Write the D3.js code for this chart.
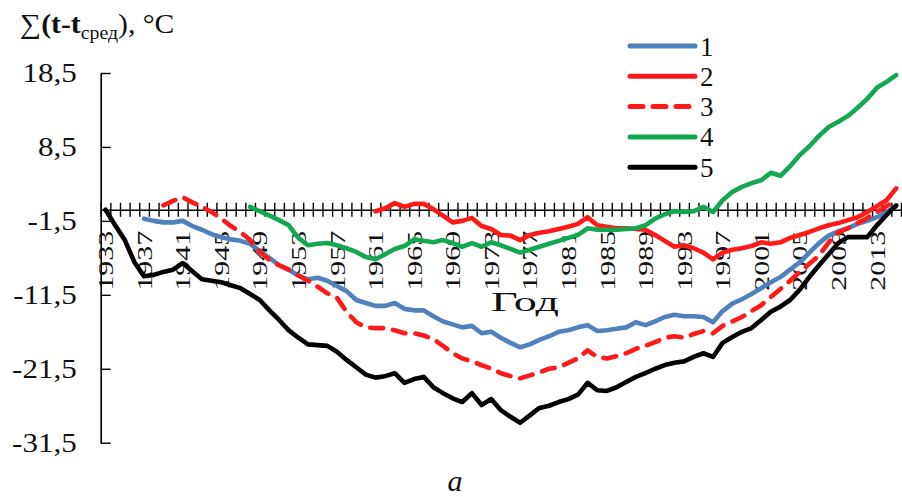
<!DOCTYPE html>
<html>
<head>
<meta charset="utf-8">
<script src="https://cdn.jsdelivr.net/npm/d3@7"></script>
<style>
  html, body { margin: 0; padding: 0; background: #fff; }
  svg { display: block; font-family: "Liberation Serif", "Times New Roman", serif; }
</style>
</head>
<body>
<svg id="chart" width="902" height="497"></svg>
<script>
// Cumulative deviations of temperature from the mean, one value per year
const firstYear = 1933;
const lastYear = 2015;
const labelYears = [1933, 1937, 1941, 1945, 1949, 1953, 1957, 1961, 1965, 1969, 1973,
  1977, 1981, 1985, 1989, 1993, 1997, 2001, 2005, 2009, 2013];
const yTicks = [18.5, 8.5, -1.5, -11.5, -21.5, -31.5];
const seriesNames = ["1", "2", "3", "4", "5"];
const seriesStart = [1937, 1961, 1939, 1948, 1933];

const s1 = [-1.2, -1.5, -1.7, -1.7, -1.5, -2.2, -2.7, -3.3, -3.7, -4.0,
  -4.2, -4.6, -5.6, -6.5, -7.5, -8.1, -8.9, -9.4, -9.2, -9.6,
  -10.3, -11.0, -12.2, -12.6, -13.0, -13.0, -12.6, -13.4, -13.6, -13.6,
  -14.4, -15.1, -15.5, -15.9, -15.7, -16.7, -16.5, -17.3, -18.0, -18.6,
  -18.2, -17.6, -17.1, -16.5, -16.3, -15.9, -15.6, -16.4, -16.3, -16.1,
  -15.9, -15.2, -15.6, -15.1, -14.5, -14.2, -14.4, -14.4, -14.5, -15.2,
  -13.7, -12.7, -12.1, -11.4, -10.6, -9.8, -9.1, -8.1, -7.1, -5.8,
  -4.5, -3.5, -2.9, -2.5, -1.9, -1.5, -1.0, -0.3, 0.5];

const s2 = [-0.2, 0.2, 0.9, 0.4, 0.8, 0.8, 0.1, -0.8, -1.7, -1.5,
  -1.1, -2.2, -2.6, -3.4, -3.5, -4.1, -3.4, -3.1, -2.9, -2.6,
  -2.3, -1.9, -1.0, -2.1, -2.3, -2.5, -2.5, -2.6, -2.7, -3.4,
  -4.2, -5.0, -4.8, -5.2, -5.8, -6.7, -5.8, -5.4, -5.2, -4.9,
  -4.4, -4.6, -4.4, -3.8, -3.4, -3.0, -2.5, -2.1, -1.8, -1.4,
  -1.0, -0.3, 0.5, 1.3, 2.9];

const s3 = [0.6, 1.2, 1.7, 1.0, 0.4, -0.3, -1.2, -2.2, -3.0, -4.1,
  -5.7, -6.8, -7.5, -8.1, -8.9, -9.6, -10.4, -11.3, -11.9, -13.8,
  -15.2, -15.9, -16.0, -16.0, -16.3, -16.7, -16.7, -17.0, -17.5, -18.4,
  -19.4, -20.1, -20.5, -21.0, -21.5, -22.1, -22.5, -22.8, -22.4, -22.0,
  -21.5, -21.3, -20.7, -20.1, -19.0, -19.9, -20.1, -19.8, -19.4, -18.8,
  -18.4, -17.9, -17.3, -17.1, -17.3, -16.8, -16.4, -16.7, -15.7, -15.1,
  -14.5, -13.7, -12.9, -11.8, -10.7, -9.6, -8.4, -7.3, -6.2, -4.4,
  -3.1, -2.5, -1.8, -1.1, -0.3, 0.5, 1.3];

const s4 = [0.4, -0.2, -0.8, -1.4, -2.1, -3.8, -4.8, -4.6, -4.5, -4.8,
  -5.2, -5.7, -6.4, -6.7, -6.0, -5.3, -4.9, -4.0, -4.2, -4.4,
  -4.1, -4.5, -5.0, -4.5, -5.0, -4.4, -4.8, -5.3, -5.8, -5.4,
  -5.0, -4.6, -4.2, -3.8, -3.4, -2.5, -2.7, -2.7, -2.7, -2.6,
  -2.5, -2.1, -1.2, -0.6, -0.2, -0.3, -0.2, 0.4, -0.3, 1.3,
  2.4, 3.1, 3.6, 4.0, 5.0, 4.6, 5.9, 7.4, 8.6, 10.0,
  11.2, 11.9, 12.7, 13.8, 15.0, 16.5, 17.3, 18.2];

const s5 = [0, -2.1, -4.1, -7.1, -9.0, -8.8, -8.4, -8.1, -7.2, -8.3,
  -9.4, -9.6, -9.8, -10.2, -10.6, -11.4, -12.2, -13.6, -14.9, -16.3,
  -17.3, -18.2, -18.3, -18.4, -19.2, -20.3, -21.3, -22.3, -22.7, -22.5,
  -22.1, -23.4, -22.9, -22.6, -24.0, -24.8, -25.5, -26.0, -24.8, -26.4,
  -25.6, -27.1, -28.0, -28.8, -27.8, -26.8, -26.5, -26.0, -25.6, -25.0,
  -23.4, -24.4, -24.5, -24.0, -23.3, -22.6, -22.1, -21.5, -21.0, -20.7,
  -20.5, -19.9, -19.4, -19.9, -18.0, -17.2, -16.5, -16.0, -14.9, -13.8,
  -13.1, -12.2, -10.8, -9.1, -7.5, -6.0, -4.5, -3.7, -3.7, -3.7,
  -2.1, -0.7, 0.6];

const seriesValues = [s1, s2, s3, s4, s5];
const seriesColors = ["#4f81bd", "#ff1a1a", "#ff1a1a", "#12a84f", "#000000"];
const seriesDash = [null, null, "13,10", null, null];

const svg = d3.select("#chart");

const plot = { left: 100.7, right: 901, top: 73, bottom: 442.7 };

const x = d3.scaleLinear()
  .domain([firstYear - 0.5, lastYear + 0.5])
  .range([plot.left, plot.right]);

const y = d3.scaleLinear()
  .domain([-31.5, 18.5])
  .range([plot.bottom, plot.top]);

const ru = d3.formatLocale({ decimal: ",", thousands: " ", grouping: [3], currency: ["", ""], minus: "-" });
const fmt = ru.format(".1f");

// Vertical axis: ticks point into the plot, labels on the left
const yAxis = svg.append("g")
  .attr("transform", `translate(${plot.left},0)`)
  .call(d3.axisLeft(y).tickValues(yTicks).tickFormat(fmt).tickSize(-10).tickSizeOuter(0).tickPadding(24));
yAxis.select(".domain").attr("stroke", "#000").attr("stroke-width", 1.6);
yAxis.selectAll(".tick line").attr("stroke", "#000").attr("stroke-width", 1.4);
yAxis.selectAll(".tick text")
  .attr("font-family", "Liberation Serif, serif")
  .attr("font-size", 27)
  .attr("fill", "#111")
  .attr("x", -24 / 1.15)
  .attr("dy", "0.33em")
  .attr("transform", "scale(1.15,1)");

// Horizontal axis at zero with a cross tick at every category boundary
const boundaries = d3.range(firstYear - 0.5, lastYear + 1, 1);
const xAxis = svg.append("g")
  .attr("transform", `translate(0,${y(0)})`)
  .call(d3.axisBottom(x).tickValues(boundaries).tickFormat("").tickSize(7).tickSizeOuter(0));
xAxis.select(".domain").attr("stroke", "#000").attr("stroke-width", 1.6);
xAxis.selectAll(".tick line").attr("y1", -7).attr("stroke", "#000").attr("stroke-width", 1.4);

// Rotated year labels
const labelAxis = svg.append("g")
  .attr("transform", `translate(0,${y(0)})`)
  .call(d3.axisBottom(x).tickValues(labelYears).tickFormat(d3.format("d")).tickSize(0).tickSizeOuter(0));
labelAxis.select(".domain").remove();
labelAxis.selectAll(".tick text")
  .attr("font-family", "Liberation Serif, serif")
  .attr("font-size", 21)
  .attr("fill", "#111")
  .attr("text-anchor", "start")
  .attr("transform", "translate(0,81) rotate(-90)")
  .attr("x", 0)
  .attr("y", 0)
  .attr("dy", "0.34em")
  .attr("textLength", 60)
  .attr("lengthAdjust", "spacingAndGlyphs");

// Series lines
const line = d3.line()
  .x(d => x(d.year))
  .y(d => y(d.value));

seriesValues.forEach((vals, i) => {
  const pts = vals.map((v, k) => ({ year: seriesStart[i] + k, value: v }));
  const path = svg.append("path")
    .datum(pts)
    .attr("d", line)
    .attr("fill", "none")
    .attr("stroke", seriesColors[i])
    .attr("stroke-width", 4.6)
    .attr("stroke-linejoin", "round")
    .attr("stroke-linecap", "round");
  if (seriesDash[i]) path.attr("stroke-dasharray", seriesDash[i]);
});

// Axis titles
svg.append("text")
  .attr("x", 525).attr("y", 311)
  .attr("text-anchor", "middle")
  .attr("font-size", 28)
  .attr("fill", "#111")
  .attr("textLength", 68)
  .attr("lengthAdjust", "spacingAndGlyphs")
  .text("Год");

const title = svg.append("text")
  .attr("x", 0).attr("y", 0)
  .attr("transform", "translate(20,33) scale(1.1,1)")
  .attr("font-size", 27)
  .attr("fill", "#111");
title.append("tspan").text("∑");
title.append("tspan").attr("font-weight", "bold").text("(t-t");
title.append("tspan").attr("font-size", 18).attr("dy", 6).text("сред");
title.append("tspan").attr("dy", -6).text("), °C");

// Legend
const legend = svg.append("g");
seriesNames.forEach((name, i) => {
  const ly = 46 + i * 30.3;
  const l = legend.append("line")
    .attr("x1", 630).attr("x2", 695)
    .attr("y1", ly).attr("y2", ly)
    .attr("stroke", seriesColors[i])
    .attr("stroke-width", 5)
    .attr("stroke-linecap", "round");
  if (seriesDash[i]) l.attr("stroke-dasharray", seriesDash[i]);
  legend.append("text")
    .attr("x", 700).attr("y", ly + 9.5)
    .attr("font-size", 27)
    .attr("fill", "#111")
    .text(name);
});

// Panel letter
svg.append("text")
  .attr("x", 455).attr("y", 491)
  .attr("text-anchor", "middle")
  .attr("font-size", 30)
  .attr("font-style", "italic")
  .attr("fill", "#111")
  .text("a");
</script>
</body>
</html>
